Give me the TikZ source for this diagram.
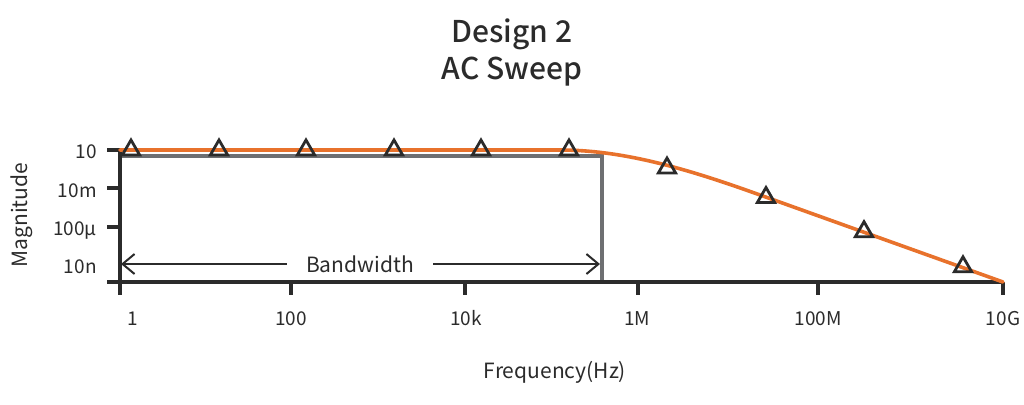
\documentclass[tikz,border=0pt]{standalone}
\usepackage{fontspec}
\setmainfont{Noto Sans CJK SC}
\newfontfamily\titlefont{Noto Sans CJK SC Medium}
\usetikzlibrary{arrows.meta,shapes.geometric}
\definecolor{curveorange}{HTML}{E8722C}
\definecolor{boxgray}{HTML}{6E6F72}
\definecolor{axisdark}{HTML}{2B2B2B}
\tikzset{axis/.style={%
  draw=axisdark,
  line width=1.8pt,
  }
}
\tikzset{response/.style={%
  draw=curveorange,
  line width=1.8pt,
  line cap=round,
  }
}
\tikzset{bandbox/.style={%
  draw=boxgray,
  line width=1.7pt,
  }
}
\tikzset{bandarrow/.style={%
  -{Straight Barb[length=6pt,width=10pt]},
  draw=axisdark,
  line width=1pt,
  }
}
\tikzset{marker/.style={%
  regular polygon,
  regular polygon sides=3,
  draw=axisdark,
  line width=1.4pt,
  minimum size=10pt,
  inner sep=0pt,
  }
}
\tikzset{ticklabel/.style={%
  font=\fontsize{9.5}{11}\selectfont,
  text=axisdark,
  inner sep=0pt,
  }
}
\tikzset{axislabel/.style={%
  font=\fontsize{10.5}{12}\selectfont,
  text=axisdark,
  inner sep=0pt,
  }
}

\begin{document}
\begin{tikzpicture}[x=0.5pt,y=-0.5pt]
  \useasboundingbox (0,0) rectangle (1024,404);

  \node (title) [font=\fontsize{15}{17}\selectfont\titlefont, text=axisdark, anchor=base] at (512,42) {Design 2};
  \node (subtitle) [font=\fontsize{15}{17}\selectfont\titlefont, text=axisdark, anchor=base] at (512,79) {AC Sweep};

  \coordinate (origin) at (120,282);
  \coordinate (ytop) at (120,150);
  \coordinate (xstart) at (107,282);
  \coordinate (xend) at (1003,282);
  \coordinate (cutoff) at (602,156);

  % bandwidth box
  \draw [bandbox] (origin |- cutoff) -- (cutoff) -- (cutoff |- origin);

  % axes
  \draw [axis] (xstart) -- (xend);
  \draw [axis] (120,294) -- (ytop);
  \foreach \y in {150,188,227}
    \draw [axis] (107,\y) -- (120,\y);
  \foreach \y/\lab/\nm in {158/10/a,197/10m/b,235/100µ/c,273/10n/d}
    \node (ylab\nm) [ticklabel, anchor=base east] at (97,\y) {\lab};
  \foreach \x/\lx/\lab/\nm in {120/133/1/a,291/291/100/b,465/466/10k/c,638/637/1M/d,818/818/100M/e,1003/1003/10G/f} {
    \draw [axis] (\x,282) -- (\x,295);
    \node (xlab\nm) [ticklabel, anchor=base] at (\lx,325) {\lab};
  }

  \node (ylabel) [axislabel, rotate=90, anchor=base] at (27,215) {Magnitude};
  \node (xlabel) [axislabel, anchor=base] at (555,378) {Frequency(Hz)};

  % response curve
  \draw [response] (120,150) -- (560,150) .. controls (620,150) and (680,166.6) .. (750,191.4) -- (xend);
  \foreach \x/\y/\nm in {131/150/1,219/150/2,306/150/3,394/150/4,481/150/5,569/150/6,667/168/7,766/197.5/8,864/231.7/9,963/266.8/10}
    \node (mark\nm) [marker] at (\x,\y) {};

  % bandwidth arrow
  \node (bw) [axislabel, inner xsep=9.5pt] at (360,264) {Bandwidth};
  \coordinate (bwleft) at (121,264);
  \coordinate (bwright) at (600,264);
  \draw [bandarrow] (bw.west) -- (bwleft);
  \draw [bandarrow] (bw.east) -- (bwright);
\end{tikzpicture}
\end{document}
